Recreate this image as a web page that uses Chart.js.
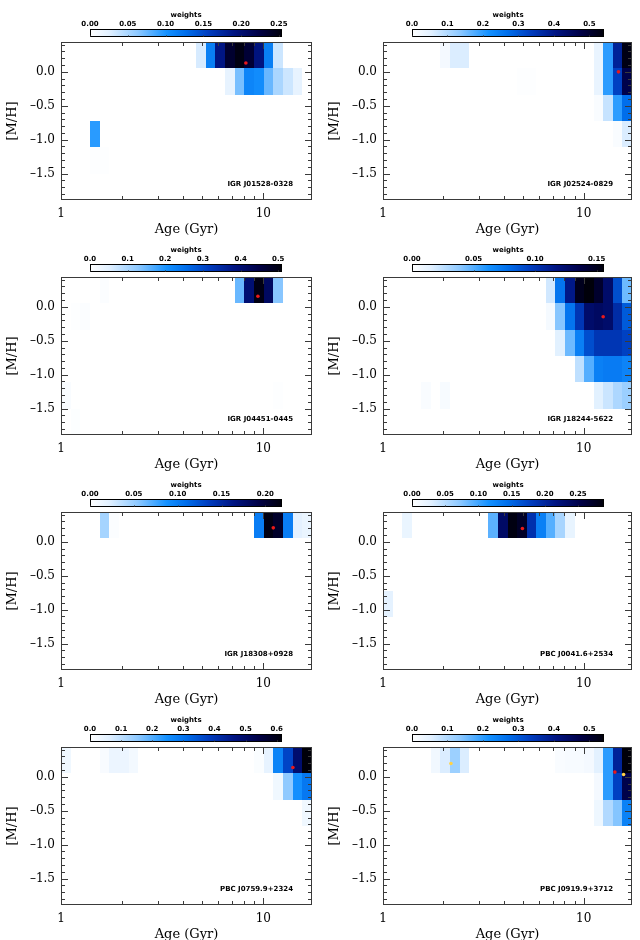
<!DOCTYPE html>
<html><head><meta charset="utf-8">
<script src="https://cdn.jsdelivr.net/npm/chart.js@4"></script>
<style>
html,body{margin:0;padding:0;background:#fff;overflow:hidden;width:640px;height:940px}
.pan{position:absolute;height:240px}
canvas{position:absolute;display:block}
</style></head><body>
<script>
// ---------- grid & axes ----------
const ageMin = 1, ageMax = 17.4, nAgeBins = 26;
const mhMin = -1.89, mhMax = 0.44;
const mhEdges = [0.44, 0.052, -0.336, -0.724, -1.112, -1.5, -1.89];
const ageTicks = [1,2,3,4,5,6,7,8,9,10];
const ageTickLabels = ['1','','','','','','','','','10'];
const mhTicks = [-1.5,-1.0,-0.5,0.0];
const mhTickLabels = ['\u20131.5','\u20131.0','\u20130.5','0.0'];
const mhMinor = [-1.8,-1.7,-1.6,-1.4,-1.3,-1.2,-1.1,-0.9,-0.8,-0.7,-0.6,-0.4,-0.3,-0.2,-0.1,0.1,0.2,0.3,0.4];

// ---------- panels ----------
const panelNames = ['IGR J01528-0328','IGR J02524-0829','IGR J04451-0445','IGR J18244-5622',
  'IGR J18308+0928','PBC J0041.6+2534','PBC J0759.9+2324','PBC J0919.9+3712'];
const cbMax = [0.254, 0.541, 0.51, 0.156, 0.219, 0.289, 0.617, 0.541];
const cbTicks = [
  [0,0.05,0.10,0.15,0.20,0.25],[0,0.1,0.2,0.3,0.4,0.5],[0,0.1,0.2,0.3,0.4,0.5],[0,0.05,0.10,0.15],
  [0,0.05,0.10,0.15,0.20],[0,0.05,0.10,0.15,0.20,0.25],[0,0.1,0.2,0.3,0.4,0.5,0.6],[0,0.1,0.2,0.3,0.4,0.5]];
const cbTickLabels = [
  ['0.00','0.05','0.10','0.15','0.20','0.25'],['0.0','0.1','0.2','0.3','0.4','0.5'],
  ['0.0','0.1','0.2','0.3','0.4','0.5'],['0.00','0.05','0.10','0.15'],
  ['0.00','0.05','0.10','0.15','0.20'],['0.00','0.05','0.10','0.15','0.20','0.25'],
  ['0.0','0.1','0.2','0.3','0.4','0.5','0.6'],['0.0','0.1','0.2','0.3','0.4','0.5']];

// cells: [age bin, [M/H] bin (0 = top), weight]
const cellsA = [[14,0,0.03],[15,0,0.115],[16,0,0.19],[17,0,0.235],[18,0,0.25],[19,0,0.232],[20,0,0.192],[21,0,0.115],[22,0,0.035],
  [17,1,0.02],[18,1,0.07],[19,1,0.11],[20,1,0.105],[21,1,0.075],[22,1,0.05],[23,1,0.035],[24,1,0.02],
  [3,3,0.095],[3,4,0.002],[4,4,0.0015]];
const cellsB = [[6,0,0.02],[7,0,0.06],[8,0,0.06],[22,0,0.04],[23,0,0.2],[24,0,0.38],[25,0,0.53],
  [14,1,0.003],[15,1,0.003],[22,1,0.04],[23,1,0.2],[24,1,0.33],[25,1,0.47],
  [22,2,0.01],[23,2,0.08],[24,2,0.2],[25,2,0.27],[24,3,0.01],[25,3,0.06]];
const cellsC = [[4,0,0.007],[18,0,0.15],[19,0,0.40],[20,0,0.50],[21,0,0.42],[22,0,0.13],
  [1,1,0.003],[2,1,0.006],[0,4,0.01],[22,4,0.003],[1,5,0.005]];
const cellsD = [[17,0,0.02],[18,0,0.075],[19,0,0.115],[20,0,0.15],[21,0,0.156],[22,0,0.145],[23,0,0.125],[24,0,0.09],[25,0,0.045],
  [17,1,0.005],[18,1,0.04],[19,1,0.075],[20,1,0.1],[21,1,0.125],[22,1,0.128],[23,1,0.125],[24,1,0.105],[25,1,0.085],
  [18,2,0.015],[19,2,0.045],[20,2,0.07],[21,2,0.09],[22,2,0.1],[23,2,0.1],[24,2,0.1],[25,2,0.095],
  [20,3,0.025],[21,3,0.05],[22,3,0.07],[23,3,0.072],[24,3,0.072],[25,3,0.068],
  [4,4,0.003],[6,4,0.004],[22,4,0.015],[23,4,0.022],[24,4,0.03],[25,4,0.035]];
const cellsE = [[4,0,0.045],[5,0,0.003],[20,0,0.1],[21,0,0.215],[22,0,0.205],[23,0,0.1],[24,0,0.02],[25,0,0.015]];
const cellsF = [[2,0,0.02],[11,0,0.09],[12,0,0.235],[13,0,0.285],[14,0,0.272],[15,0,0.19],[16,0,0.13],[17,0,0.092],[18,0,0.058],[19,0,0.022],
  [0,3,0.025]];
const cellsG = [[0,0,0.03],[4,0,0.015],[5,0,0.04],[6,0,0.04],[7,0,0.025],[20,0,0.01],[21,0,0.05],[22,0,0.27],[23,0,0.37],[24,0,0.49],[25,0,0.617],
  [22,1,0.03],[23,1,0.15],[24,1,0.25],[25,1,0.29],[25,2,0.03]];
const cellsH = [[5,0,0.025],[6,0,0.06],[7,0,0.12],[8,0,0.06],[18,0,0.01],[19,0,0.015],[20,0,0.015],[21,0,0.02],[22,0,0.05],[23,0,0.2],[24,0,0.38],[25,0,0.54],
  [22,1,0.02],[23,1,0.2],[24,1,0.33],[25,1,0.47],[22,2,0.03],[23,2,0.1],[24,2,0.14],[25,2,0.24]];
const panelCells = [cellsA,cellsB,cellsC,cellsD,cellsE,cellsF,cellsG,cellsH];

// best-fit markers: [age Gyr, [M/H]]
const redDots = [[[8.2,0.13]],[[14.9,0.0]],[[9.4,0.157]],[[12.5,-0.147]],[[11.2,0.206]],[[4.95,0.197]],[[14.0,0.138]],[[14.3,0.07]]];
const yellowDots = [[],[],[],[],[],[],[],[[2.18,0.196],[15.8,0.035]]];

// ---------- colormap ----------
const cmapStops = [[0,255,255,255],[0.1,225,240,255],[0.25,140,200,255],[0.4,20,145,255],[0.5,0,110,235],
  [0.62,0,60,190],[0.75,0,20,130],[0.88,0,0,70],[1,0,0,10]];
function cmap(t){
  t = Math.max(0, Math.min(1, t));
  for (let i = 1; i < cmapStops.length; i++){
    const a = cmapStops[i-1], b = cmapStops[i];
    if (t <= b[0]){
      const f = (t - a[0]) / (b[0] - a[0]);
      const c = [1,2,3].map(k => Math.round(a[k] + f*(b[k]-a[k])));
      return 'rgb(' + c.join(',') + ')';
    }
  }
  return 'rgb(0,0,10)';
}
const ageEdge = k => Math.pow(10, Math.log10(ageMax) * k / nAgeBins);

const panelLeft = [0, 322];
const panelTop = [2, 237, 472, 707];
const FRAME = '#3a3a3a';

function heatPlugin(idx){
  return {
    id: 'heat' + idx,
    beforeDatasetsDraw(chart){
      const {ctx, chartArea: a, scales: {x, y}} = chart;
      ctx.save();
      ctx.beginPath(); ctx.rect(a.left, a.top, a.width, a.height); ctx.clip();
      panelCells[idx].forEach(([c, r, w]) => {
        const x0 = Math.round(x.getPixelForValue(ageEdge(c))), x1 = Math.round(x.getPixelForValue(ageEdge(c+1)));
        const y0 = Math.round(y.getPixelForValue(mhEdges[r])), y1 = Math.round(y.getPixelForValue(mhEdges[r+1]));
        ctx.fillStyle = cmap(w / cbMax[idx]);
        ctx.fillRect(x0, y0, x1 - x0, y1 - y0);
      });
      ctx.restore();
    },
    afterDatasetsDraw(chart){
      const {ctx, chartArea: a, scales: {x, y}} = chart;
      ctx.save();
      ctx.strokeStyle = FRAME; ctx.lineWidth = 1;
      ctx.strokeRect(a.left + 0.5, a.top + 0.5, a.width - 1, a.height - 1);
      ctx.beginPath();
      ageTicks.forEach((v, i) => {
        const px = Math.round(x.getPixelForValue(v)) + 0.5;
        const L = ageTickLabels[i] ? 7 : 4;
        ctx.moveTo(px, a.bottom); ctx.lineTo(px, a.bottom - L);
        ctx.moveTo(px, a.top); ctx.lineTo(px, a.top + L);
      });
      const yt = (v, L) => {
        const py = Math.round(y.getPixelForValue(v)) + 0.5;
        ctx.moveTo(a.left, py); ctx.lineTo(a.left + L, py);
        ctx.moveTo(a.right, py); ctx.lineTo(a.right - L, py);
      };
      mhTicks.forEach(v => yt(v, 7));
      mhMinor.forEach(v => yt(v, 4));
      ctx.stroke();
      ctx.fillStyle = '#000';
      ctx.font = 'bold 7px "DejaVu Sans"';
      ctx.textAlign = 'right'; ctx.textBaseline = 'middle';
      ctx.fillText(panelNames[idx], a.right - 19, a.bottom - 16);
      ctx.restore();
    }
  };
}

function cbPlugin(idx){
  return {
    id: 'cb' + idx,
    beforeDraw(chart){
      const {ctx, chartArea: a, scales: {x}} = chart;
      const g = ctx.createLinearGradient(x.getPixelForValue(0), 0, x.getPixelForValue(cbMax[idx]), 0);
      cmapStops.forEach(s => g.addColorStop(s[0], 'rgb(' + s[1] + ',' + s[2] + ',' + s[3] + ')'));
      ctx.save();
      ctx.fillStyle = g;
      ctx.fillRect(a.left, a.top, a.width, a.height);
      ctx.strokeStyle = '#000'; ctx.lineWidth = 1;
      ctx.strokeRect(a.left + 0.5, a.top + 0.5, a.width - 1, a.height - 1);
      ctx.strokeStyle = 'rgba(60,60,60,0.6)';
      ctx.beginPath();
      cbTicks[idx].forEach(v => {
        const px = Math.round(x.getPixelForValue(v)) + 0.5;
        ctx.moveTo(px, a.bottom); ctx.lineTo(px, a.bottom - 2);
      });
      ctx.stroke();
      ctx.restore();
    }
  };
}

const serif = 'DejaVu Serif';
for (let i = 0; i < 8; i++){
  const col = i % 2, row = Math.floor(i / 2);
  const w = col ? 318 : 320;
  const div = document.createElement('div');
  div.className = 'pan';
  div.style.left = panelLeft[col] + 'px'; div.style.top = panelTop[row] + 'px'; div.style.width = w + 'px';
  document.body.appendChild(div);

  const hm = document.createElement('canvas');
  hm.width = w; hm.height = 236; hm.style.left = '0px'; hm.style.top = '0px';
  hm.style.width = w + 'px'; hm.style.height = '236px';
  div.appendChild(hm);
  const cb = document.createElement('canvas');
  cb.width = 252; cb.height = 40; cb.style.left = '60px'; cb.style.top = '0px';
  cb.style.width = '252px'; cb.style.height = '40px';
  div.appendChild(cb);

  new Chart(hm, {
    type: 'scatter',
    data: { datasets: [
      { data: redDots[i].map(d => ({x: d[0], y: d[1]})), backgroundColor: 'rgb(235,25,25)', borderWidth: 0, pointRadius: 1.8 },
      { data: yellowDots[i].map(d => ({x: d[0], y: d[1]})), backgroundColor: 'rgb(255,210,70)', borderWidth: 0, pointRadius: 1.8 }
    ]},
    options: {
      responsive: false, animation: false, events: [],
      layout: { padding: { top: 40, right: 8, bottom: 0, left: 0 } },
      plugins: { legend: { display: false }, tooltip: { enabled: false } },
      scales: {
        x: {
          type: 'logarithmic', min: ageMin, max: ageMax,
          afterBuildTicks: s => { s.ticks = ageTicks.map(v => ({ value: v })); },
          afterFit: s => { s.height = 38; },
          grid: { display: false, drawTicks: false }, border: { display: false },
          ticks: { autoSkip: false, maxRotation: 0, padding: 7, color: '#000', font: { family: serif, size: 12 },
                   callback: (v, k) => ageTickLabels[k] },
          title: { display: true, text: 'Age (Gyr)', color: '#000', font: { family: serif, size: 13 }, padding: { top: 0, bottom: 1 } }
        },
        y: {
          type: 'linear', min: mhMin, max: mhMax,
          afterBuildTicks: s => { s.ticks = mhTicks.map(v => ({ value: v })); },
          afterFit: s => { s.width = 61; },
          grid: { display: false, drawTicks: false }, border: { display: false },
          ticks: { autoSkip: false, padding: 6, color: '#000', font: { family: serif, size: 12 },
                   callback: (v, k) => mhTickLabels[k] },
          title: { display: true, text: '[M/H]', color: '#000', font: { family: serif, size: 13 }, padding: { top: 5, bottom: 0 } }
        }
      }
    },
    plugins: [heatPlugin(i)]
  });

  new Chart(cb, {
    type: 'scatter',
    data: { datasets: [] },
    options: {
      responsive: false, animation: false, events: [],
      layout: { padding: { top: 0, right: 30, bottom: 5, left: 30 } },
      plugins: { legend: { display: false }, tooltip: { enabled: false } },
      scales: {
        x: {
          type: 'linear', position: 'top', min: 0, max: cbMax[i],
          afterBuildTicks: s => { s.ticks = cbTicks[i].map(v => ({ value: v })); },
          afterFit: s => { s.height = 27; },
          grid: { display: false, drawTicks: false }, border: { display: false },
          ticks: { autoSkip: false, maxRotation: 0, padding: 1, color: '#000', font: { family: 'DejaVu Sans', size: 7, weight: 'bold' },
                   callback: (v, k) => cbTickLabels[i][k] },
          title: { display: true, text: 'weights', color: '#000', font: { family: 'DejaVu Sans', size: 7, weight: 'bold' }, padding: { top: 9, bottom: 0 } }
        },
        y: { display: false, min: 0, max: 1 }
      }
    },
    plugins: [cbPlugin(i)]
  });
}
</script>
</body></html>
